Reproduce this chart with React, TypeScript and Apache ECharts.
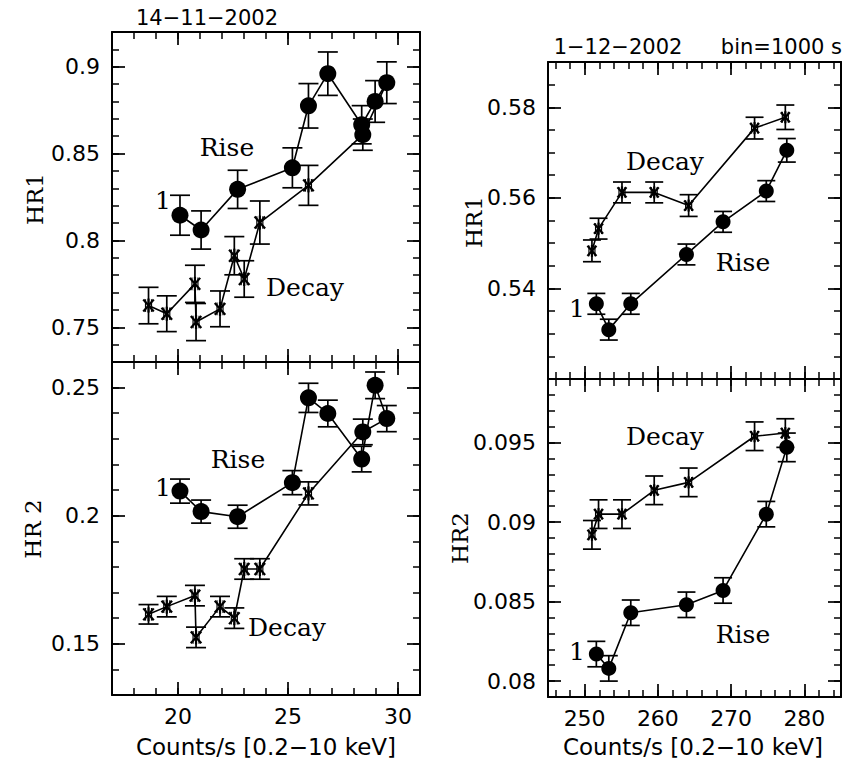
import React, { useEffect, useRef } from "react";
import * as echarts from "echarts";

// ---------- data (left: 14-11-2002) ----------
const leftRiseX = [20.09, 21.05, 22.71, 25.2, 25.93, 26.81, 28.35, 28.96, 29.49];
const leftDecayX = [28.4, 25.93, 23.72, 23.01, 22.56, 21.91, 20.82, 20.77, 19.49, 18.66];

const tlRiseY = [0.8145, 0.806, 0.8294, 0.8418, 0.8775, 0.896, 0.8666, 0.88, 0.8908];
const tlRiseErr = [0.0115, 0.011, 0.011, 0.0115, 0.0128, 0.0125, 0.011, 0.012, 0.012];
const tlDecayY = [0.8609, 0.8317, 0.8103, 0.7778, 0.7912, 0.7606, 0.753, 0.775, 0.7578, 0.7625];
const tlDecayErr = [0.009, 0.0115, 0.0124, 0.0105, 0.011, 0.0103, 0.0107, 0.0107, 0.0103, 0.0105];

const blRiseY = [0.2096, 0.2016, 0.1996, 0.2129, 0.246, 0.2399, 0.2221, 0.2509, 0.2379];
const blRiseErr = [0.0047, 0.0045, 0.0045, 0.0047, 0.0057, 0.0052, 0.005, 0.0052, 0.0051];
const blDecayY = [0.2327, 0.2087, 0.1792, 0.1792, 0.16, 0.1645, 0.1525, 0.1688, 0.1645, 0.1615];
const blDecayErr = [0.005, 0.0045, 0.004, 0.004, 0.004, 0.004, 0.004, 0.004, 0.004, 0.0038];

// number of leading decay points drawn as filled circles (left panels)
const leftDecayCircles = 1;

// ---------- data (right: 1-12-2002) ----------
const rightRiseX = [251.6, 253.3, 256.3, 263.9, 268.9, 274.8, 277.6];
const rightDecayX = [277.4, 273.2, 264.2, 259.5, 255.1, 251.9, 251.0];

const trRiseY = [0.5366, 0.5309, 0.5366, 0.5475, 0.5547, 0.5615, 0.5705];
const trRiseErr = [0.0023, 0.0023, 0.0023, 0.0023, 0.0023, 0.0023, 0.0026];
const trDecayY = [0.5778, 0.5754, 0.5583, 0.5612, 0.5612, 0.5532, 0.5483];
const trDecayErr = [0.0027, 0.0024, 0.0024, 0.0023, 0.0023, 0.0023, 0.0024];

const brRiseY = [0.0817, 0.0808, 0.0843, 0.0848, 0.0857, 0.0905, 0.0947];
const brRiseErr = [0.0008, 0.0008, 0.0008, 0.0008, 0.0008, 0.0008, 0.0009];
const brDecayY = [0.0956, 0.0954, 0.0925, 0.092, 0.0905, 0.0905, 0.0892];
const brDecayErr = [0.0009, 0.0009, 0.0009, 0.0009, 0.0009, 0.0009, 0.0009];

// ---------- ticks ----------
const leftXTicks = [20, 25, 30];
const leftXMinor = [18, 19, 20, 21, 22, 23, 24, 25, 26, 27, 28, 29, 30];
const rightXTicks = [250, 260, 270, 280];
const rightXMinor = [246, 248, 250, 252, 254, 256, 258, 260, 262, 264, 266, 268, 270, 272, 274, 276, 278, 280, 282, 284];
const tlYTicks = [0.75, 0.8, 0.85, 0.9];
const tlYMinor = [0.74, 0.75, 0.76, 0.77, 0.78, 0.79, 0.8, 0.81, 0.82, 0.83, 0.84, 0.85, 0.86, 0.87, 0.88, 0.89, 0.9, 0.91];
const blYTicks = [0.15, 0.2, 0.25];
const blYMinor = [0.14, 0.15, 0.16, 0.17, 0.18, 0.19, 0.2, 0.21, 0.22, 0.23, 0.24, 0.25];
const trYTicks = [0.54, 0.56, 0.58];
const trYMinor = [0.525, 0.53, 0.535, 0.54, 0.545, 0.55, 0.555, 0.56, 0.565, 0.57, 0.575, 0.58, 0.585];
const brYTicks = [0.08, 0.085, 0.09, 0.095];
const brYMinor = [0.08, 0.081, 0.082, 0.083, 0.084, 0.085, 0.086, 0.087, 0.088, 0.089, 0.09, 0.091, 0.092, 0.093, 0.094, 0.095, 0.096, 0.097, 0.098];

const SANS = "DejaVu Sans";
const SERIF = "DejaVu Serif";

function pairs(xs: number[], ys: number[]) {
  return xs.map((x, i) => [x, ys[i]]);
}
function triples(xs: number[], ys: number[], es: number[]) {
  return xs.map((x, i) => [x, ys[i], es[i]]);
}

function makeAxes(kind: "x" | "y", gi: number, min: number, max: number, major: number[], minor: number[], showLabels: boolean) {
  const posA = kind === "x" ? "bottom" : "left";
  const posB = kind === "x" ? "top" : "right";
  const base = {
    type: "value",
    gridIndex: gi,
    min,
    max,
    splitLine: { show: false },
    scale: true,
  };
  const line = { show: true, onZero: false, lineStyle: { color: "#000", width: 2 } };
  const noLine = { show: false, onZero: false };
  const majorTick = { show: true, inside: true, length: 13, customValues: major, lineStyle: { color: "#000", width: 1.7 } };
  const minorTick = { show: true, inside: true, length: 7, customValues: minor, lineStyle: { color: "#000", width: 1.5 } };
  const label = {
    show: showLabels,
    customValues: major,
    margin: kind === "x" ? 10 : 12,
    color: "#000",
    fontSize: 22,
    fontFamily: SANS,
  };
  const off = { show: false };
  return [
    { ...base, position: posA, axisLine: line, axisTick: majorTick, axisLabel: label },
    { ...base, position: posA, axisLine: noLine, axisTick: minorTick, axisLabel: off },
    { ...base, position: posB, axisLine: line, axisTick: majorTick, axisLabel: off },
    { ...base, position: posB, axisLine: noLine, axisTick: minorTick, axisLabel: off },
  ];
}

const errRender = (hw: number) => (params: any, api: any) => {
  const x = api.value(0);
  const y = api.value(1);
  const e = api.value(2);
  const t = api.coord([x, y + e]);
  const b = api.coord([x, y - e]);
  const style = { stroke: "#000", lineWidth: 1.7, fill: null };
  return {
    type: "group",
    children: [
      { type: "line", shape: { x1: t[0], y1: t[1], x2: b[0], y2: b[1] }, style },
      { type: "line", shape: { x1: t[0] - hw, y1: t[1], x2: t[0] + hw, y2: t[1] }, style },
      { type: "line", shape: { x1: b[0] - hw, y1: b[1], x2: b[0] + hw, y2: b[1] }, style },
    ],
  };
};

const starRender = (r: number) => (params: any, api: any) => {
  const c = api.coord([api.value(0), api.value(1)]);
  const style = { stroke: "#000", lineWidth: 2.2, fill: null };
  const dx = r * 0.75;
  const dy = r * 0.85;
  return {
    type: "group",
    children: [
      { type: "line", shape: { x1: c[0], y1: c[1] - r, x2: c[0], y2: c[1] + r }, style },
      { type: "line", shape: { x1: c[0] - dx, y1: c[1] - dy, x2: c[0] + dx, y2: c[1] + dy }, style },
      { type: "line", shape: { x1: c[0] - dx, y1: c[1] + dy, x2: c[0] + dx, y2: c[1] - dy }, style },
      { type: "line", shape: { x1: c[0] - 3, y1: c[1] - r * 0.9, x2: c[0] - 3, y2: c[1] + r * 0.9 }, style: { ...style, lineWidth: 1.2 } },
      { type: "line", shape: { x1: c[0] + 3, y1: c[1] - r * 0.9, x2: c[0] + 3, y2: c[1] + r * 0.9 }, style: { ...style, lineWidth: 1.2 } },
    ],
  };
};

function panelSeries(
  gi: number,
  riseX: number[],
  riseY: number[],
  riseE: number[],
  decayX: number[],
  decayY: number[],
  decayE: number[],
  nCircle: number,
  joinDecay: boolean,
  symSize: number,
  capHw: number,
  starR: number
) {
  const ax = { xAxisIndex: gi * 4, yAxisIndex: gi * 4 };
  const decayLine = joinDecay
    ? [[riseX[riseX.length - 1], riseY[riseY.length - 1]], ...pairs(decayX, decayY)]
    : pairs(decayX, decayY);
  const out: any[] = [
    {
      type: "line",
      ...ax,
      data: pairs(riseX, riseY),
      symbol: "circle",
      symbolSize: symSize,
      itemStyle: { color: "#000", opacity: 1 },
      lineStyle: { color: "#000", width: 1.6 },
      z: 4,
      silent: true,
    },
    {
      type: "line",
      ...ax,
      data: decayLine,
      symbol: "none",
      lineStyle: { color: "#000", width: 1.6 },
      z: 2,
      silent: true,
    },
    {
      type: "custom",
      ...ax,
      data: triples(riseX, riseY, riseE),
      renderItem: errRender(capHw),
      z: 3,
      silent: true,
    },
    {
      type: "custom",
      ...ax,
      data: triples(decayX, decayY, decayE),
      renderItem: errRender(capHw),
      z: 3,
      silent: true,
    },
    {
      type: "custom",
      ...ax,
      data: pairs(decayX.slice(nCircle), decayY.slice(nCircle)),
      renderItem: starRender(starR),
      z: 4,
      silent: true,
    },
  ];
  if (nCircle > 0) {
    out.push({
      type: "scatter",
      ...ax,
      data: pairs(decayX.slice(0, nCircle), decayY.slice(0, nCircle)),
      symbol: "circle",
      symbolSize: symSize,
      itemStyle: { color: "#000", opacity: 1 },
      z: 4,
      silent: true,
    });
  }
  return out;
}

function txt(text: string, x: number, y: number, font: string, size: number, align = "center", rotation = 0) {
  return {
    type: "text",
    x,
    y,
    rotation,
    z: 10,
    style: {
      text,
      fill: "#000000",
      fontSize: size,
      fontFamily: font,
      align,
      textAlign: align,
      verticalAlign: "middle",
      textVerticalAlign: "middle",
    },
  };
}

export default function App() {
  const ref = useRef<HTMLDivElement>(null);
  useEffect(() => {
    if (!ref.current) return;
    const chart = echarts.init(ref.current, null, { renderer: "svg" });
    const grids = [
      { left: 112, top: 32, width: 308, height: 330 },
      { left: 112, top: 362, width: 308, height: 333 },
      { left: 548, top: 62, width: 293, height: 317 },
      { left: 548, top: 379, width: 293, height: 318 },
    ].map((g) => ({ ...g, show: false, outerBoundsMode: "none", containLabel: false }));

    const xAxis = [
      ...makeAxes("x", 0, 17, 31, leftXTicks, leftXMinor, false),
      ...makeAxes("x", 1, 17, 31, leftXTicks, leftXMinor, true),
      ...makeAxes("x", 2, 245, 285, rightXTicks, rightXMinor, false),
      ...makeAxes("x", 3, 245, 285, rightXTicks, rightXMinor, true),
    ];
    const yAxis = [
      ...makeAxes("y", 0, 0.73, 0.92, tlYTicks, tlYMinor, true),
      ...makeAxes("y", 1, 0.13, 0.26, blYTicks, blYMinor, true),
      ...makeAxes("y", 2, 0.52, 0.59, trYTicks, trYMinor, true),
      ...makeAxes("y", 3, 0.079, 0.099, brYTicks, brYMinor, true),
    ];

    const series = [
      ...panelSeries(0, leftRiseX, tlRiseY, tlRiseErr, leftDecayX, tlDecayY, tlDecayErr, leftDecayCircles, true, 17, 10, 7),
      ...panelSeries(1, leftRiseX, blRiseY, blRiseErr, leftDecayX, blDecayY, blDecayErr, leftDecayCircles, true, 17, 10, 7),
      ...panelSeries(2, rightRiseX, trRiseY, trRiseErr, rightDecayX, trDecayY, trDecayErr, 0, false, 15, 9, 6),
      ...panelSeries(3, rightRiseX, brRiseY, brRiseErr, rightDecayX, brDecayY, brDecayErr, 0, false, 15, 9, 6),
    ];

    const graphic = [
      txt("14\u221211\u22122002", 207, 18, SANS, 21),
      txt("1\u221212\u22122002", 618, 47, SANS, 21),
      txt("bin=1000 s", 842, 47, SANS, 21, "right"),
      txt("Counts/s [0.2\u221210 keV]", 266, 747, SANS, 23),
      txt("Counts/s [0.2\u221210 keV]", 693, 747, SANS, 23),
      txt("HR1", 35, 199, SERIF, 23, "center", Math.PI / 2),
      txt("HR 2", 33, 529, SERIF, 23, "center", Math.PI / 2),
      txt("HR1", 474, 222, SERIF, 23, "center", Math.PI / 2),
      txt("HR2", 460, 538, SERIF, 23, "center", Math.PI / 2),
      txt("Rise", 227, 147, SERIF, 25),
      txt("Decay", 305, 287, SERIF, 25),
      txt("1", 163, 200, SERIF, 25),
      txt("Rise", 238, 459, SERIF, 25),
      txt("Decay", 287, 627, SERIF, 25),
      txt("1", 163, 487, SERIF, 25),
      txt("Decay", 665, 161, SERIF, 25),
      txt("Rise", 743, 262, SERIF, 25),
      txt("1", 577, 308, SERIF, 25),
      txt("Decay", 665, 436, SERIF, 25),
      txt("Rise", 743, 634, SERIF, 25),
      txt("1", 577, 651, SERIF, 25),
    ];

    chart.setOption({
      animation: false,
      backgroundColor: "#fff",
      grid: grids,
      xAxis,
      yAxis,
      series,
      graphic,
    });
    return () => chart.dispose();
  }, []);
  return (
    <div
      ref={ref}
      style={{ position: "fixed", left: 0, top: 0, width: 851, height: 762, background: "#fff" }}
    />
  );
}
